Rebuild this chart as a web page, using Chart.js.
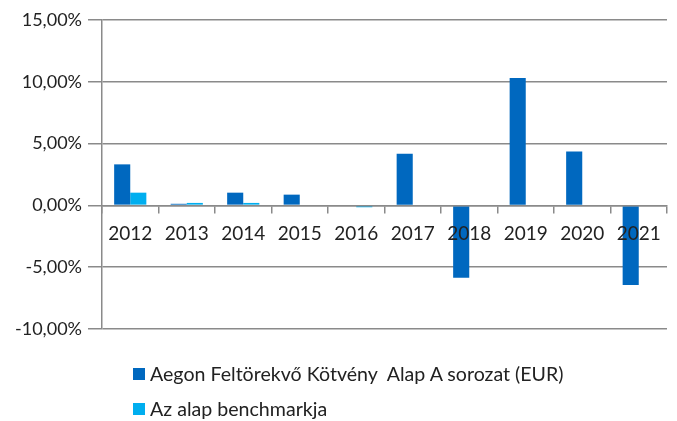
<!DOCTYPE html>
<html>
<head>
<meta charset="utf-8">
<script src="https://cdn.jsdelivr.net/npm/chart.js@4/dist/chart.umd.min.js"></script>
<style>
  html, body { margin: 0; padding: 0; background: #fff; }
  #wrap { position: relative; width: 677px; height: 421px; }
  #legend { position: absolute; left: 133px; top: 356px; font-family: Lato, "Noto Sans", sans-serif; font-size: 19.6px; color: #222; }
  .li { display: flex; align-items: center; height: 35px; }
  .sw { width: 12px; height: 12px; margin-right: 5px; }
</style>
</head>
<body>
<div id="wrap">
  <canvas id="c" width="677" height="421"></canvas>
  <div id="legend"></div>
</div>
<script>
const categories = ['2012','2013','2014','2015','2016','2017','2018','2019','2020','2021'];
const seriesNames = ['Aegon Feltörekvő Kötvény  Alap A sorozat (EUR)', 'Az alap benchmarkja'];
const fundValues = [3.32, 0.13, 1.03, 0.87, 0.0, 4.18, -5.85, 10.3, 4.37, -6.45];
const benchmarkValues = [1.03, 0.2, 0.2, 0.0, -0.15, 0.0, 0.0, 0.0, 0.0, 0.0];
const yTicks = [-10, -5, 0, 5, 10, 15];

const colors = ['#0068BF', '#00AEEF'];
const gridColor = '#8a8a8a';
const fontFamily = 'Lato, "Noto Sans", sans-serif';

const chart = new Chart(document.getElementById('c'), {
  type: 'bar',
  data: {
    labels: categories,
    datasets: [
      { label: seriesNames[0], data: fundValues, backgroundColor: colors[0], categoryPercentage: 0.57, barPercentage: 1.0 },
      { label: seriesNames[1], data: benchmarkValues, backgroundColor: colors[1], categoryPercentage: 0.57, barPercentage: 1.0 }
    ]
  },
  options: {
    responsive: false,
    animation: false,
    layout: { padding: { left: 0, right: 10, top: 20, bottom: 92 } },
    plugins: { legend: { display: false }, tooltip: { enabled: false } },
    scales: {
      x: {
        position: { y: 0 },
        grid: { drawOnChartArea: false, drawTicks: true, tickLength: 7, color: gridColor, lineWidth: 1.5, z: 1 },
        border: { display: true, color: gridColor, width: 1.5, z: 1 },
        ticks: { color: '#222', font: { family: fontFamily, size: 19 }, padding: 10, maxRotation: 0, z: 2 }
      },
      y: {
        min: -10, max: 15,
        afterBuildTicks: (s) => { s.ticks = yTicks.map(v => ({ value: v })); },
        afterFit: (s) => { s.width = 102; },
        grid: { color: gridColor, lineWidth: 1.5, drawTicks: true, tickLength: 14 },
        border: { display: true, color: gridColor, width: 1.5 },
        ticks: {
          color: '#222', font: { family: fontFamily, size: 18 }, padding: 6,
          callback: (v) => v.toFixed(2).replace('.', ',') + '%'
        }
      }
    }
  }
});

const legend = document.getElementById('legend');
chart.data.datasets.forEach(ds => {
  const row = document.createElement('div');
  row.className = 'li';
  const sw = document.createElement('span');
  sw.className = 'sw';
  sw.style.background = ds.backgroundColor;
  const t = document.createElement('span');
  t.textContent = ds.label;
  t.style.whiteSpace = 'pre';
  row.appendChild(sw);
  row.appendChild(t);
  legend.appendChild(row);
});
</script>
</body>
</html>
